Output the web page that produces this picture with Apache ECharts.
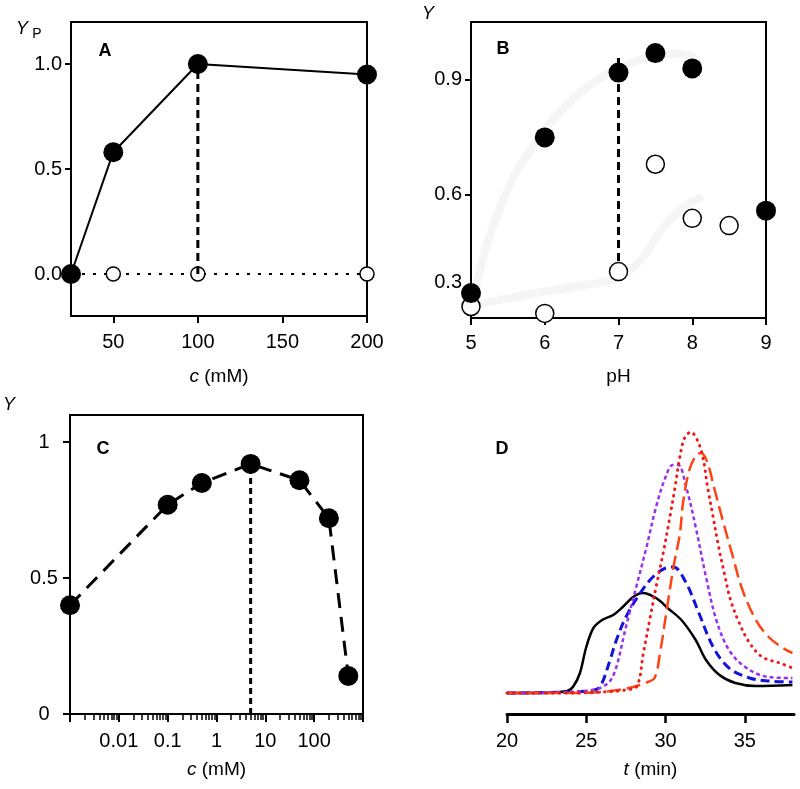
<!DOCTYPE html>
<html>
<head>
<meta charset="utf-8">
<script src="https://cdn.jsdelivr.net/npm/echarts@6/dist/echarts.min.js"></script>
<style>
html,body{margin:0;padding:0;background:#fff;}
#chart{width:800px;height:789px;}
</style>
</head>
<body>
<div id="chart"></div>
<script>
// ---------- Panel A ----------
const aConc = [25, 50, 100, 200];
const aFilled = [0, 0.58, 1.0, 0.95];
const aOpenConc = [25, 50, 100, 200];
const aOpen = [0, 0, 0, 0];
const aGuideConc = [100, 100];
const aGuideY = [0, 1.0];
const aXTicks = [50, 100, 150, 200];
const aXTickLabels = ['50', '100', '150', '200'];
const aYTicks = [0, 0.5, 1.0];
const aYTickLabels = ['0.0', '0.5', '1.0'];

// ---------- Panel B ----------
const bFilledPH = [5, 6, 7, 7.5, 8, 9];
const bFilled = [0.344, 0.750, 0.919, 0.970, 0.930, 0.559];
const bOpenPH = [5, 6, 7, 7.5, 8, 8.5];
const bOpen = [0.309, 0.291, 0.400, 0.680, 0.539, 0.520];
const bFitUpperPH = [5.0, 5.2, 5.4, 5.6, 5.8, 6.0, 6.3, 6.6, 7.0, 7.4, 7.8, 8.0];
const bFitUpper = [0.30, 0.46, 0.57, 0.655, 0.715, 0.77, 0.835, 0.885, 0.93, 0.958, 0.968, 0.962];
const bFitLowerPH = [5.0, 5.5, 6.0, 6.5, 7.0, 7.3, 7.55, 7.8, 8.0, 8.1];
const bFitLower = [0.31, 0.33, 0.348, 0.363, 0.385, 0.43, 0.50, 0.555, 0.583, 0.591];
const bGuidePH = [7, 7];
const bGuideY = [0.957, 0.422];
const bXTicks = [5, 6, 7, 8, 9];
const bXTickLabels = ['5', '6', '7', '8', '9'];
const bYTicks = [0.3, 0.6, 0.9];
const bYTickLabels = ['0.3', '0.6', '0.9'];

// ---------- Panel C ----------
const cConc = [0.001, 0.1, 0.5, 5, 50, 200, 500];
const cY = [0.40, 0.77, 0.85, 0.92, 0.86, 0.72, 0.14];
const cGuideConc = [5, 5];
const cGuideY = [0, 0.92];
const cXMajor = [0.001, 0.01, 0.1, 1, 10, 100, 1000];
const cXTicks = [0.01, 0.1, 1, 10, 100];
const cXTickLabels = ['0.01', '0.1', '1', '10', '100'];
const cYTicks = [0, 0.5, 1];
const cYTickLabels = ['0', '0.5', '1'];

// ---------- Panel D ----------
const dBlackT = [20, 22, 23.8, 24.2, 24.6, 25.0, 25.45, 26.0, 26.7, 27.3, 27.95, 28.55, 29.4, 30.2, 31.0, 31.9, 32.55, 33.4, 34.4, 35.7, 38.0];
const dBlack  = [21, 21, 23, 28, 41, 67, 86, 94, 99, 107, 117, 121, 116, 105, 94, 74, 54, 39, 31, 28, 29];
const dBlueT = [20, 24, 25.5, 25.9, 26.5, 26.9, 27.5, 28.4, 29.2, 30.0, 30.5, 31.3, 32.1, 33.0, 34.0, 35.3, 36.5, 38.0];
const dBlue  = [21, 22, 24, 28, 54, 74, 97, 121, 137, 146, 147, 131, 101, 67, 46, 36, 33, 32];
const dPurpleT = [20, 24, 25.5, 26.0, 26.5, 26.9, 27.5, 28.15, 28.8, 29.4, 30.0, 30.45, 30.8, 31.3, 31.9, 32.55, 33.2, 34.0, 35.1, 36.5, 38.0];
const dPurple  = [21, 22, 24, 27, 33, 47, 87, 127, 167, 207, 237, 249, 249, 227, 187, 137, 94, 64, 46, 37, 36];
const dRedT = [20, 24, 26, 27.5, 28.2, 28.6, 29.0, 29.4, 29.85, 30.25, 30.6, 30.9, 31.2, 31.6, 32.0, 32.35, 32.65, 33.0, 33.3, 33.7, 34.1, 34.65, 35.3, 36.1, 37.2, 38.0];
const dRed  = [21, 21, 22, 24, 28, 61, 94, 127, 161, 195, 227, 257, 276, 282, 274, 257, 227, 197, 171, 141, 114, 91, 71, 57, 51, 46];
const dOrangeT = [20, 24, 25.9, 27.0, 27.95, 28.7, 29.3, 29.65, 30.1, 30.5, 30.9, 31.1, 31.5, 31.95, 32.25, 32.65, 33.05, 33.6, 34.25, 34.85, 35.7, 36.5, 37.4, 38.0];
const dOrange  = [21, 21, 22, 24, 27, 31, 36, 61, 107, 147, 180, 211, 244, 259, 261, 251, 227, 194, 157, 124, 94, 77, 66, 61];
const dXTicks = [20, 25, 30, 35];
const dXTickLabels = ['20', '25', '30', '35'];

// ---------- helpers ----------
const FONT = '"Liberation Sans", Arial, Helvetica, sans-serif';
const zip = (xs, ys) => xs.map((x, i) => [x, ys[i]]);
const labelFor = (ticks, labels) => (v) => {
  const i = ticks.findIndex(t => Math.abs(t - v) <= 1e-6 * Math.max(1, Math.abs(t)));
  return i >= 0 ? labels[i] : '';
};
const cMinor = [];
for (let d = -3; d <= 2; d++) {
  for (let m = 2; m <= 9; m++) cMinor.push(parseFloat((m * Math.pow(10, d)).toPrecision(6)));
}

const axisLineStyle = { color: '#000', width: 2 };
const tickLabelStyle = { color: '#000', fontSize: 20, fontFamily: FONT };
const nameStyle = (gap) => ({
  nameLocation: 'middle', nameGap: gap,
  nameTextStyle: {
    color: '#000', fontSize: 19, fontFamily: FONT, verticalAlign: 'middle',
    rich: {
      i: { fontStyle: 'italic', fontSize: 19, fontFamily: FONT, color: '#000' },
      n: { fontSize: 19, fontFamily: FONT, color: '#000' }
    }
  }
});

const gridBox = { show: true, borderColor: '#000', borderWidth: 2, backgroundColor: 'transparent', containLabel: false, outerBoundsMode: 'none' };

const option = {
  backgroundColor: '#fff',
  animation: false,
  grid: [
    Object.assign({ left: 71, top: 22, width: 296, height: 294 }, gridBox),
    Object.assign({ left: 471, top: 22, width: 295, height: 296 }, gridBox),
    Object.assign({ left: 70, top: 415, width: 293, height: 299 }, gridBox),
    { left: 507, top: 414, width: 287, height: 300, show: false, containLabel: false, outerBoundsMode: 'none' }
  ],
  xAxis: [
    Object.assign({
      gridIndex: 0, type: 'value', min: 25, max: 200, position: 'bottom',
      name: '{i|c}{n| (mM)}',
      axisLine: { show: true, onZero: false, lineStyle: axisLineStyle },
      axisTick: { show: true, inside: false, length: 7, customValues: aXTicks, lineStyle: { color: '#000', width: 2 } },
      axisLabel: { customValues: aXTicks, formatter: labelFor(aXTicks, aXTickLabels), margin: 16, ...tickLabelStyle },
      splitLine: { show: false }
    }, nameStyle(61)),
    Object.assign({
      gridIndex: 1, type: 'value', min: 5, max: 9, position: 'bottom',
      name: 'pH',
      axisLine: { show: true, onZero: false, lineStyle: axisLineStyle },
      axisTick: { show: true, inside: false, length: 7, customValues: bXTicks, lineStyle: { color: '#000', width: 2 } },
      axisLabel: { customValues: bXTicks, formatter: labelFor(bXTicks, bXTickLabels), margin: 15, ...tickLabelStyle },
      splitLine: { show: false }
    }, nameStyle(59)),
    Object.assign({
      gridIndex: 2, type: 'log', logBase: 10, min: 0.0009999, max: 1000.001, position: 'bottom',
      name: '{i|c}{n| (mM)}',
      axisLine: { show: true, onZero: false, lineStyle: axisLineStyle },
      axisTick: { show: true, inside: false, length: 8, customValues: cXMajor, lineStyle: { color: '#000', width: 2 } },
      axisLabel: { customValues: cXTicks, formatter: labelFor(cXTicks, cXTickLabels), margin: 17, ...tickLabelStyle },
      splitLine: { show: false }, minorTick: { show: false }
    }, nameStyle(56)),
    {
      gridIndex: 2, type: 'log', logBase: 10, min: 0.0009999, max: 1000.001, position: 'bottom', offset: 0,
      axisLine: { show: false, onZero: false },
      axisTick: { show: true, inside: false, length: 6, customValues: cMinor, lineStyle: { color: '#000', width: 1.5 } },
      axisLabel: { show: false },
      splitLine: { show: false }
    },
    Object.assign({
      gridIndex: 3, type: 'value', min: 20, max: 38.1, position: 'bottom',
      name: '{i|t}{n| (min)}',
      axisLine: { show: true, onZero: false, lineStyle: { color: '#000', width: 3 } },
      axisTick: { show: true, inside: false, length: 9, customValues: dXTicks, lineStyle: { color: '#000', width: 2.5 } },
      axisLabel: { customValues: dXTicks, formatter: labelFor(dXTicks, dXTickLabels), margin: 17, ...tickLabelStyle },
      splitLine: { show: false }
    }, nameStyle(56))
  ],
  yAxis: [
    {
      gridIndex: 0, type: 'value', min: -0.2, max: 1.2, position: 'left',
      axisLine: { show: true, onZero: false, lineStyle: axisLineStyle },
      axisTick: { show: true, inside: false, length: 6, customValues: aYTicks, lineStyle: { color: '#000', width: 2 } },
      axisLabel: { customValues: aYTicks, formatter: labelFor(aYTicks, aYTickLabels), margin: 9, ...tickLabelStyle },
      splitLine: { show: false }
    },
    {
      gridIndex: 1, type: 'value', min: 0.279, max: 1.051, position: 'left',
      axisLine: { show: true, onZero: false, lineStyle: axisLineStyle },
      axisTick: { show: true, inside: false, length: 6, customValues: bYTicks, lineStyle: { color: '#000', width: 2 } },
      axisLabel: {
        customValues: bYTicks, margin: 9, ...tickLabelStyle,
        formatter: (v) => {
          const s = labelFor(bYTicks, bYTickLabels)(v);
          return Math.abs(v - 0.3) < 1e-6 ? '{up|' + s + '}' : s;
        },
        rich: { up: { fontSize: 20, fontFamily: FONT, color: '#000', padding: [0, 0, 54, 0] } }
      },
      splitLine: { show: false }
    },
    {
      gridIndex: 2, type: 'value', min: 0, max: 1.1, position: 'left',
      axisLine: { show: true, onZero: false, lineStyle: axisLineStyle },
      axisTick: { show: true, inside: false, length: 7, customValues: cYTicks, lineStyle: { color: '#000', width: 2 } },
      axisLabel: { customValues: cYTicks, formatter: labelFor(cYTicks, cYTickLabels), margin: 26, align: 'center', ...tickLabelStyle },
      splitLine: { show: false }
    },
    {
      gridIndex: 3, type: 'value', min: 0, max: 300, show: false,
      splitLine: { show: false }
    }
  ],
  graphic: [
    { type: 'text', x: 22, y: 29, style: { text: 'Y', font: 'italic 18px ' + FONT, fill: '#000', align: 'center', verticalAlign: 'middle' } },
    { type: 'text', x: 37, y: 34, style: { text: 'P', font: '14px ' + FONT, fill: '#000', align: 'center', verticalAlign: 'middle' } },
    { type: 'text', x: 428, y: 14, style: { text: 'Y', font: 'italic 18px ' + FONT, fill: '#000', align: 'center', verticalAlign: 'middle' } },
    { type: 'text', x: 9, y: 405, style: { text: 'Y', font: 'italic 18px ' + FONT, fill: '#000', align: 'center', verticalAlign: 'middle' } },
    { type: 'text', x: 105, y: 51, style: { text: 'A', font: 'bold 18px ' + FONT, fill: '#000', align: 'center', verticalAlign: 'middle' } },
    { type: 'text', x: 503, y: 49, style: { text: 'B', font: 'bold 18px ' + FONT, fill: '#000', align: 'center', verticalAlign: 'middle' } },
    { type: 'text', x: 103, y: 449, style: { text: 'C', font: 'bold 18px ' + FONT, fill: '#000', align: 'center', verticalAlign: 'middle' } },
    { type: 'text', x: 502, y: 449, style: { text: 'D', font: 'bold 18px ' + FONT, fill: '#000', align: 'center', verticalAlign: 'middle' } }
  ],
  series: [
    // Panel A
    {
      type: 'line', xAxisIndex: 0, yAxisIndex: 0, z: 3, clip: false,
      data: zip(aOpenConc, aOpen),
      lineStyle: { color: '#000', width: 2, type: [3, 8] },
      symbol: 'circle', symbolSize: 14,
      itemStyle: { color: '#fff', borderColor: '#000', borderWidth: 1.5, opacity: 1 }
    },
    {
      type: 'line', xAxisIndex: 0, yAxisIndex: 0, z: 4, clip: false,
      data: zip(aGuideConc, aGuideY), symbol: 'none',
      lineStyle: { color: '#000', width: 3, type: [8, 5] }
    },
    {
      type: 'line', xAxisIndex: 0, yAxisIndex: 0, z: 5, clip: false,
      data: zip(aConc, aFilled),
      lineStyle: { color: '#000', width: 2 },
      symbol: 'circle', symbolSize: 20,
      itemStyle: { color: '#000', borderWidth: 0, opacity: 1 }
    },
    // Panel B
    {
      type: 'line', xAxisIndex: 1, yAxisIndex: 1, z: 1, smooth: 0.4, symbol: 'none',
      data: zip(bFitUpperPH, bFitUpper),
      lineStyle: { color: '#f5f5f5', width: 8, cap: 'round' }
    },
    {
      type: 'line', xAxisIndex: 1, yAxisIndex: 1, z: 1, smooth: 0.4, symbol: 'none',
      data: zip(bFitLowerPH, bFitLower),
      lineStyle: { color: '#f5f5f5', width: 8, cap: 'round' }
    },
    {
      type: 'line', xAxisIndex: 1, yAxisIndex: 1, z: 2, symbol: 'none',
      data: zip(bGuidePH, bGuideY),
      lineStyle: { color: '#000', width: 3, type: [8, 5] }
    },
    {
      type: 'scatter', xAxisIndex: 1, yAxisIndex: 1, z: 3, clip: false,
      data: zip(bOpenPH, bOpen), symbol: 'circle', symbolSize: 18,
      itemStyle: { color: '#fff', borderColor: '#000', borderWidth: 1.5, opacity: 1 }
    },
    {
      type: 'scatter', xAxisIndex: 1, yAxisIndex: 1, z: 4, clip: false,
      data: zip(bFilledPH, bFilled), symbol: 'circle', symbolSize: 20,
      itemStyle: { color: '#000', opacity: 1 }
    },
    // Panel C
    {
      type: 'line', xAxisIndex: 2, yAxisIndex: 2, z: 2, symbol: 'none',
      data: zip(cGuideConc, cGuideY),
      lineStyle: { color: '#000', width: 3, type: [6, 4] }
    },
    {
      type: 'line', xAxisIndex: 2, yAxisIndex: 2, z: 3, clip: false,
      data: zip(cConc, cY),
      lineStyle: { color: '#000', width: 3, type: [15, 9] },
      symbol: 'circle', symbolSize: 20,
      itemStyle: { color: '#000', opacity: 1 }
    },
    // Panel D
    {
      type: 'line', xAxisIndex: 4, yAxisIndex: 3, z: 2, symbol: 'none', smooth: 0.35,
      data: zip(dBlackT, dBlack), lineStyle: { color: '#000', width: 2.5 }
    },
    {
      type: 'line', xAxisIndex: 4, yAxisIndex: 3, z: 3, symbol: 'none', smooth: 0.35,
      data: zip(dBlueT, dBlue), lineStyle: { color: '#1212dd', width: 3, type: [9, 5] }
    },
    {
      type: 'line', xAxisIndex: 4, yAxisIndex: 3, z: 4, symbol: 'none', smooth: 0.35,
      data: zip(dPurpleT, dPurple), lineStyle: { color: '#9a30ec', width: 2.5, type: [4, 3] }
    },
    {
      type: 'line', xAxisIndex: 4, yAxisIndex: 3, z: 5, symbol: 'none', smooth: 0.35,
      data: zip(dOrangeT, dOrange), lineStyle: { color: '#ff4414', width: 2.5, type: [14, 6] }
    },
    {
      type: 'line', xAxisIndex: 4, yAxisIndex: 3, z: 6, symbol: 'none', smooth: 0.35,
      data: zip(dRedT, dRed), lineStyle: { color: '#ee1a1a', width: 3, type: [0.5, 6], cap: 'round' }
    }
  ]
};

const chart = echarts.init(document.getElementById('chart'), null, { renderer: 'canvas' });
chart.setOption(option);
</script>
</body>
</html>
